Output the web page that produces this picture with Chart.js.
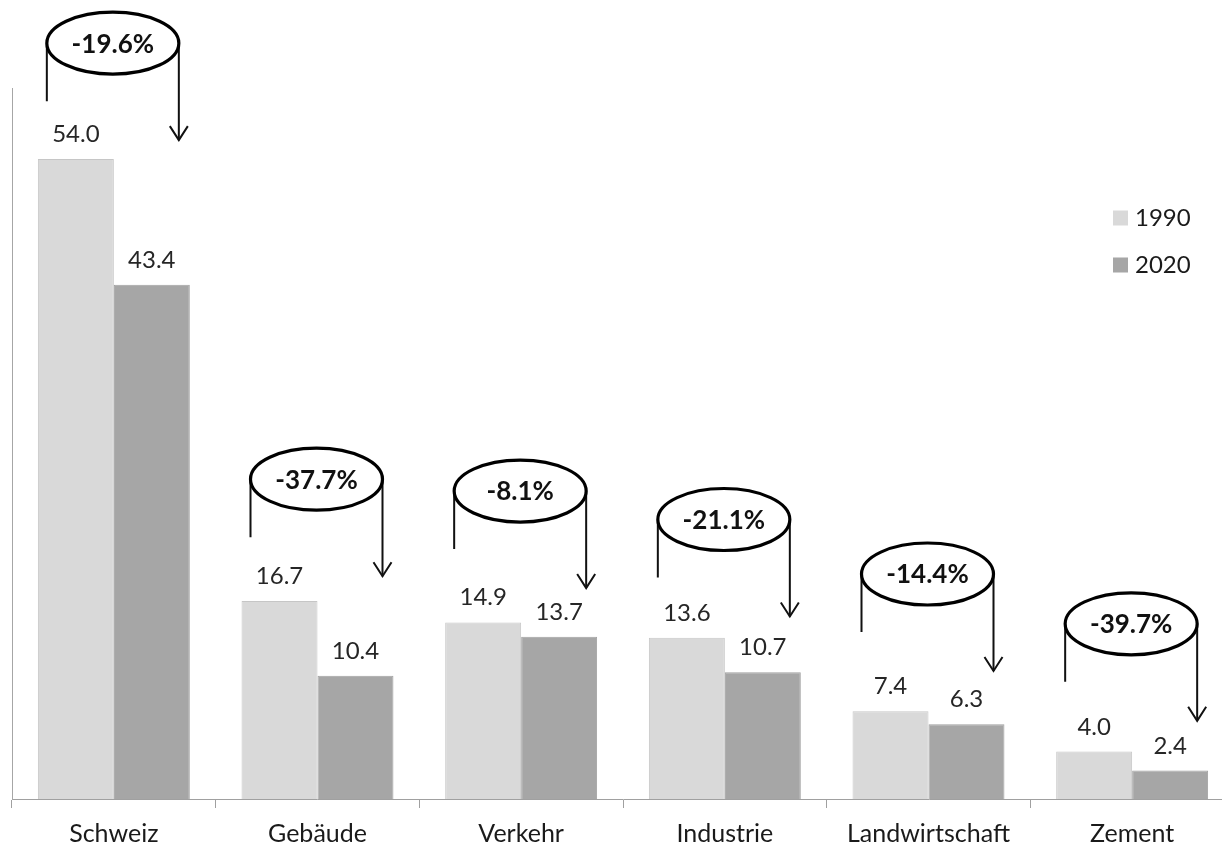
<!DOCTYPE html>
<html>
<head>
<meta charset="utf-8">
<script src="https://cdn.jsdelivr.net/npm/chart.js@4.4.1/dist/chart.umd.min.js"></script>
<style>
  html, body { margin: 0; padding: 0; background: #ffffff; overflow: hidden; }
  #wrap { width: 1234px; height: 848px; }
</style>
</head>
<body>
<div id="wrap"><canvas id="chart" width="1234" height="848"></canvas></div>
<script>
// Emissions by sector, 1990 vs 2020
const categories = ['Schweiz', 'Gebäude', 'Verkehr', 'Industrie', 'Landwirtschaft', 'Zement'];
const seriesNames = ['1990', '2020'];
const values1990 = [54.0, 16.7, 14.9, 13.6, 7.4, 4.0];
const values2020 = [43.4, 10.4, 13.7, 10.7, 6.3, 2.4];
const changeLabels = ['-19.6%', '-37.7%', '-8.1%', '-21.1%', '-14.4%', '-39.7%'];
// value level where each change arrow ends
const arrowTips = [55.6, 18.8, 17.8, 15.4, 10.8, 6.6];
const yMax = 60;

const colors = ['#d9d9d9', '#a6a6a6'];
const borders = ['#c6c6c6', '#a0a0a0'];
const FONT = 'Lato, "Open Sans", sans-serif';

// value labels above each bar
const valueLabels = {
  id: 'valueLabels',
  afterDatasetsDraw(chart) {
    const ctx = chart.ctx;
    ctx.save();
    ctx.font = '24px ' + FONT;
    ctx.fillStyle = '#262626';
    ctx.textAlign = 'center';
    ctx.textBaseline = 'alphabetic';
    chart.data.datasets.forEach((ds, di) => {
      chart.getDatasetMeta(di).data.forEach((bar, i) => {
        ctx.fillText(ds.data[i].toFixed(1), bar.x, bar.y - 17);
      });
    });
    ctx.restore();
  }
};

// ellipse badges with the relative change and a bracket arrow
const changeBadges = {
  id: 'changeBadges',
  afterDraw(chart) {
    const ctx = chart.ctx;
    const xs = chart.scales.x, ys = chart.scales.y;
    const rx = 66, ry = 31;
    ctx.save();
    categories.forEach((c, i) => {
      const cx = xs.getPixelForValue(i) - 1;
      const tip = ys.getPixelForValue(arrowTips[i]);
      const cy = tip - 97;
      // bracket lines
      ctx.strokeStyle = '#111';
      ctx.lineWidth = 2;
      ctx.beginPath();
      ctx.moveTo(cx - rx, cy);
      ctx.lineTo(cx - rx, cy + 58);
      ctx.moveTo(cx + rx, cy);
      ctx.lineTo(cx + rx, tip);
      ctx.stroke();
      // open arrow head
      ctx.beginPath();
      ctx.moveTo(cx + rx - 9, tip - 14);
      ctx.lineTo(cx + rx, tip);
      ctx.lineTo(cx + rx + 9, tip - 14);
      ctx.stroke();
      // ellipse
      ctx.beginPath();
      ctx.ellipse(cx, cy, rx, ry, 0, 0, Math.PI * 2);
      ctx.fillStyle = '#ffffff';
      ctx.fill();
      ctx.lineWidth = 3.2;
      ctx.strokeStyle = '#000';
      ctx.stroke();
      // label
      ctx.fillStyle = '#111';
      ctx.font = 'bold 26px ' + FONT;
      ctx.textAlign = 'center';
      ctx.textBaseline = 'middle';
      ctx.fillText(changeLabels[i], cx, cy + 1);
    });
    ctx.restore();
  }
};

// legend at the right side
const sideLegend = {
  id: 'sideLegend',
  afterDraw(chart) {
    const ctx = chart.ctx;
    ctx.save();
    ctx.font = '24px ' + FONT;
    ctx.textBaseline = 'middle';
    ctx.textAlign = 'left';
    chart.data.datasets.forEach((ds, i) => {
      const y = 218 + i * 47;
      ctx.fillStyle = ds.backgroundColor;
      ctx.fillRect(1113, y - 7.5, 15, 15);
      ctx.fillStyle = '#1a1a1a';
      ctx.fillText(ds.label, 1135, y);
    });
    ctx.restore();
  }
};

new Chart(document.getElementById('chart'), {
  type: 'bar',
  data: {
    labels: categories,
    datasets: [
      { label: seriesNames[0], data: values1990, backgroundColor: colors[0], borderColor: borders[0], borderWidth: 1 },
      { label: seriesNames[1], data: values2020, backgroundColor: colors[1], borderColor: borders[1], borderWidth: 1 }
    ]
  },
  options: {
    responsive: false,
    animation: false,
    events: [],
    layout: { padding: { top: 88, left: 12, right: 0, bottom: 0 } },
    datasets: { bar: { categoryPercentage: 0.746, barPercentage: 1.0 } },
    plugins: { legend: { display: false }, tooltip: { enabled: false } },
    scales: {
      x: {
        grid: { display: true, offset: true, drawOnChartArea: false, drawTicks: true, tickLength: 9, tickColor: '#a0a0a0', tickWidth: 1 },
        border: { display: true, color: '#a0a0a0', width: 1 },
        ticks: { color: '#1a1a1a', font: { family: FONT, size: 25 }, padding: 11, maxRotation: 0, autoSkip: false },
        afterFit(scale) { scale.height = 49; }
      },
      y: {
        min: 0, max: yMax,
        grid: { display: false },
        border: { display: true, color: '#a6a6a6', width: 1 },
        ticks: { display: false },
        afterFit(scale) { scale.width = 0; }
      }
    }
  },
  plugins: [valueLabels, changeBadges, sideLegend]
});
</script>
</body>
</html>
